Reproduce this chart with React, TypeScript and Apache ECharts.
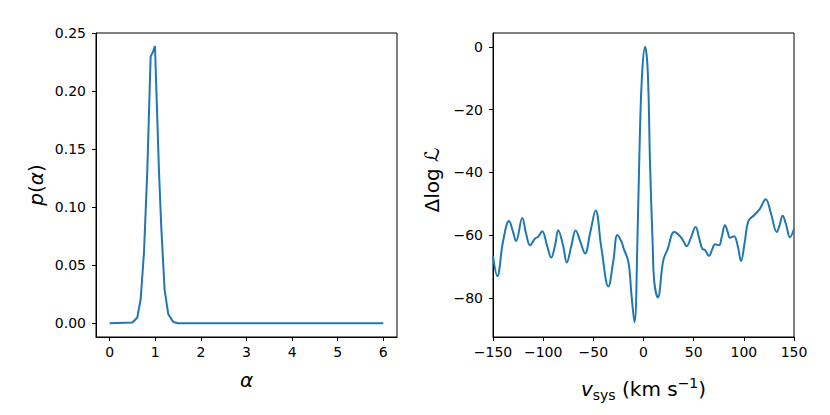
import React, { useEffect, useRef } from "react";
import * as echarts from "echarts";

const alphaValues = [0, 0.5, 0.606, 0.679, 0.752, 0.825, 0.898, 0.949, 0.993, 1.08, 1.13, 1.204, 1.285, 1.394, 1.5, 6];
const pAlpha = [0, 0.0006, 0.0049, 0.0206, 0.0607, 0.132, 0.2296, 0.2337, 0.2388, 0.132, 0.0836, 0.029, 0.0077, 0.0011, 0, 0];

const vSys = [
  -150, -145.7, -140, -134, -130, -127, -120.8, -117, -113, -108, -105, -101, -96, -92, -88, -85, -80,
  -76.5, -72, -67.6, -63, -58.3, -53, -47.7, -42, -35, -30, -26, -22, -20, -15, -12, -9, -5.8, -3.5,
  -1.2, 1.5, 4.2, 6.5, 9.2, 10.8, 14.3, 19.7, 24, 30.7, 36.4, 40, 43, 47, 52, 55.5, 58.6, 61.3, 65.3,
  68.5, 71.3, 75.3, 78, 81.2, 84, 86.2, 90.2, 94, 97.2, 101, 104.5, 111, 116, 121.8, 127, 132.8, 135.5,
  138.7, 142, 146, 150,
];
const deltaLogL = [
  -66.6, -73, -62, -55.5, -59, -61.9, -54.5, -59.5, -63.2, -61, -60.5, -58.7, -63.5, -67.1, -63, -58.4,
  -63.5, -68.7, -63.5, -58.5, -62, -65.8, -59, -52.1, -64, -76.3, -68, -59.9, -62, -64, -68.6, -79,
  -87.7, -58, -26.5, -7.6, 0, -7.6, -37, -63.4, -75, -79.8, -68, -64.5, -59, -60.3, -62, -63.5, -61,
  -57.4, -61, -64.3, -64.7, -66.6, -64.5, -62.9, -63.2, -60.5, -56.8, -59, -60.8, -60.3, -63.5, -68.2,
  -62, -55.5, -53.4, -51.6, -48.5, -53, -59, -57, -53.8, -56.5, -60.6, -58,
];

const leftXTicks = [0, 1, 2, 3, 4, 5, 6];
const leftYTicks = [0, 0.05, 0.1, 0.15, 0.2, 0.25];
const rightXTicks = [-150, -100, -50, 0, 50, 100, 150];
const rightYTicks = [-80, -60, -40, -20, 0];

const FONT = '"DejaVu Sans", sans-serif';
const LINE = "#1f77b4";

const fmtMinus = (v: number) => (v < 0 ? "\u2212" + Math.abs(v) : String(v));

export default function App() {
  const ref = useRef<HTMLDivElement>(null);
  useEffect(() => {
    if (!ref.current) return;
    const chart = echarts.init(ref.current, undefined, { renderer: "svg" });
    const axisCommon = {
      axisLine: { show: true, onZero: false, lineStyle: { color: "#000", width: 1 } },
      axisTick: { show: true, inside: false, length: 4, lineStyle: { color: "#000", width: 1 } },
      splitLine: { show: false },
      axisLabel: { color: "#000", fontSize: 14, fontFamily: FONT, margin: 8 },
    };
    const richMain = { fontSize: 20, fontFamily: FONT, lineHeight: 26, fill: "#000", color: "#000" };
    chart.setOption({
      animation: false,
      backgroundColor: "#fff",
      grid: [
        { left: 96, right: 433, top: 33, bottom: 78, show: true, borderColor: "#000", borderWidth: 1, backgroundColor: "transparent" },
        { left: 493, right: 36, top: 33, bottom: 78, show: true, borderColor: "#000", borderWidth: 1, backgroundColor: "transparent" },
      ],
      xAxis: [
        {
          type: "value", gridIndex: 0, min: -0.3, max: 6.3,
          ...axisCommon,
          axisTick: { ...axisCommon.axisTick, customValues: leftXTicks },
          axisLabel: { ...axisCommon.axisLabel, customValues: leftXTicks, formatter: (v: number) => String(v) },
        },
        {
          type: "value", gridIndex: 1, min: -150, max: 150,
          ...axisCommon,
          axisTick: { ...axisCommon.axisTick, customValues: rightXTicks },
          axisLabel: { ...axisCommon.axisLabel, customValues: rightXTicks, formatter: fmtMinus },
        },
      ],
      yAxis: [
        {
          type: "value", gridIndex: 0, min: -0.0119, max: 0.25,
          ...axisCommon,
          axisTick: { ...axisCommon.axisTick, customValues: leftYTicks },
          axisLabel: { ...axisCommon.axisLabel, margin: 10, customValues: leftYTicks, formatter: (v: number) => v.toFixed(2) },
        },
        {
          type: "value", gridIndex: 1, min: -92.4, max: 4.4,
          ...axisCommon,
          axisTick: { ...axisCommon.axisTick, customValues: rightYTicks },
          axisLabel: { ...axisCommon.axisLabel, margin: 10, customValues: rightYTicks, formatter: fmtMinus },
        },
      ],
      series: [
        {
          type: "line", xAxisIndex: 0, yAxisIndex: 0,
          data: alphaValues.map((a, i) => [a, pAlpha[i]]),
          showSymbol: false, symbol: "none",
          lineStyle: { color: LINE, width: 2 },
        },
        {
          type: "line", xAxisIndex: 1, yAxisIndex: 1,
          data: vSys.map((v, i) => [v, deltaLogL[i]]),
          showSymbol: false, symbol: "none", smooth: 0.4,
          lineStyle: { color: LINE, width: 2 },
        },
      ],
      graphic: [
        {
          type: "text", x: 246.5, y: 380,
          style: { text: "\u03b1", font: `italic 20px ${FONT}`, fill: "#000", align: "center", verticalAlign: "middle", textAlign: "center", textVerticalAlign: "middle" },
        },
        {
          type: "text", x: 36, y: 185, rotation: Math.PI / 2,
          style: {
            text: "{i|p}{n|(}{i|\u03b1}{n|)}",
            rich: { i: { ...richMain, fontStyle: "italic" }, n: richMain },
            font: `20px ${FONT}`, fill: "#000", align: "center", verticalAlign: "middle", textAlign: "center", textVerticalAlign: "middle",
          },
        },
        {
          type: "text", x: 432, y: 180, rotation: Math.PI / 2,
          style: {
            text: "{n|\u0394log }{c|\u2112}",
            rich: { n: richMain, c: { ...richMain, fontStyle: "italic" } },
            font: `20px ${FONT}`, fill: "#000", align: "center", verticalAlign: "middle", textAlign: "center", textVerticalAlign: "middle",
          },
        },
        {
          type: "text", x: 643.5, y: 389,
          style: {
            text: "{v|v}{s|sys}{n| (km s}{u|\u22121}{n|)}",
            rich: {
              v: { ...richMain, fontStyle: "italic" },
              n: richMain,
              s: { fontSize: 14, fontFamily: FONT, lineHeight: 14, verticalAlign: "bottom", fill: "#000", color: "#000" },
              u: { fontSize: 14, fontFamily: FONT, lineHeight: 12, verticalAlign: "top", fill: "#000", color: "#000" },
            },
            font: `20px ${FONT}`, fill: "#000", align: "center", verticalAlign: "middle", textAlign: "center", textVerticalAlign: "middle",
          },
        },
      ],
    });
    return () => chart.dispose();
  }, []);
  return <div ref={ref} style={{ position: "fixed", left: 0, top: 0, width: 830, height: 415, background: "#fff" }} />;
}
